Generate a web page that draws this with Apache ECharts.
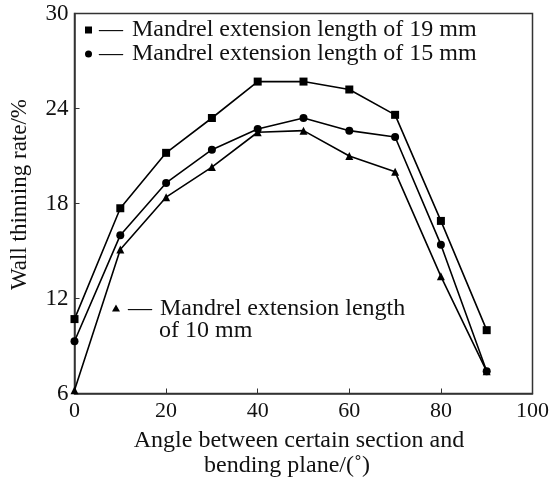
<!DOCTYPE html>
<html><head><meta charset="utf-8">
<script src="https://cdn.jsdelivr.net/npm/echarts@6/dist/echarts.min.js"></script>
<style>html,body{margin:0;padding:0;background:#fff}#c{width:552px;height:483px}</style>
</head><body><div id="c"></div>
<script>
const angles = [0, 10, 20, 30, 40, 50, 60, 70, 80, 90];
const len19 = [10.7, 17.7, 21.2, 23.4, 25.7, 25.7, 25.2, 23.6, 16.9, 10.0];
const len15 = [9.3, 16.0, 19.3, 21.4, 22.7, 23.4, 22.6, 22.2, 15.4, 7.4];
const len10 = [6.2, 15.1, 18.4, 20.3, 22.5, 22.6, 21.0, 20.0, 13.4, 7.4];
const names = ['Mandrel extension length of 19 mm', 'Mandrel extension length of 15 mm', 'Mandrel extension length of 10 mm'];
const xTicks = [0, 20, 40, 60, 80, 100];
const yTicks = [6, 12, 18, 24, 30];

const font = 'Liberation Serif, Times New Roman, serif';
const FS = 24;
function mk(name, data, sym, size) {
  return {
    name: name, type: 'line', data: angles.map((a, i) => [a, data[i]]),
    symbol: sym, symbolSize: size, itemStyle: { color: '#000' },
    lineStyle: { color: '#000', width: 1.6 }, animation: false
  };
}
const chart = echarts.init(document.getElementById('c'));
chart.setOption({
  backgroundColor: '#fff',
  grid: { left: 69.5, right: 14.5, top: 13.5, bottom: 87, show: true, borderColor: '#333', borderWidth: 1.5 },
  legend: [{
    data: [{ name: names[0], icon: 'rect' }, { name: names[1], icon: 'circle' }],
    left: 85, top: 18, orient: 'vertical', itemGap: 0, padding: 0,
    itemWidth: 7, itemHeight: 7,
    formatter: n => '{a|—}{b|' + n + '}',
    textStyle: { fontFamily: font, fontSize: FS, color: '#111',
      rich: { a: { fontFamily: font, fontSize: FS, lineHeight: 24, padding: [0, 9, 0, 2] },
              b: { fontFamily: font, fontSize: FS, lineHeight: 24 } } }
  }, {
    data: [{ name: names[2], icon: 'path://M4,0L8,7L0,7Z M0,31L8,31L8,31.02Z' }],
    left: 112, top: 297, orient: 'vertical', padding: 0,
    itemWidth: 8, itemHeight: 31,
    formatter: () => '{a|—}{b|Mandrel extension length}\n{c|of 10 mm}',
    textStyle: { fontFamily: font, fontSize: FS, color: '#111',
      rich: { a: { fontFamily: font, fontSize: FS, lineHeight: 22, padding: [0, 8, 0, 3] },
              b: { fontFamily: font, fontSize: FS, lineHeight: 22 },
              c: { fontFamily: font, fontSize: FS, lineHeight: 22, padding: [0, 0, 0, 34] } } }
  }],
  xAxis: {
    type: 'value', min: xTicks[0], max: xTicks[xTicks.length - 1], interval: 20,
    name: '{a|Angle between certain section and}\n{b|bending plane/(˚)}', nameLocation: 'middle', nameGap: 35,
    nameTextStyle: { fontFamily: font, fontSize: FS, color: '#111', padding: [0, 9, 0, 0],
      rich: { a: { fontFamily: font, fontSize: FS, lineHeight: 25 }, b: { fontFamily: font, fontSize: FS, lineHeight: 25, padding: [0, 24, 0, 0] } } },
    axisLine: { lineStyle: { color: '#333', width: 1.5 } },
    axisTick: { inside: true, length: 5, lineStyle: { color: '#333' } },
    axisLabel: { fontFamily: font, fontSize: 22, color: '#111', margin: 7 },
    splitLine: { show: false }
  },
  yAxis: {
    type: 'value', min: yTicks[0], max: yTicks[yTicks.length - 1], interval: 6,
    name: 'Wall thinning rate/%', nameLocation: 'middle', nameGap: 43.5,
    nameTextStyle: { fontFamily: font, fontSize: 23, color: '#111', padding: [0, 0, 0, 18] },
    axisLine: { lineStyle: { color: '#333', width: 1.5 } },
    axisTick: { inside: true, length: 5, lineStyle: { color: '#333' } },
    axisLabel: { fontFamily: font, fontSize: 23, color: '#111', margin: 6 },
    splitLine: { show: false }
  },
  series: [mk(names[0], len19, 'rect', 8), mk(names[1], len15, 'circle', 8), mk(names[2], len10, 'triangle', 8)]
});
</script></body></html>
